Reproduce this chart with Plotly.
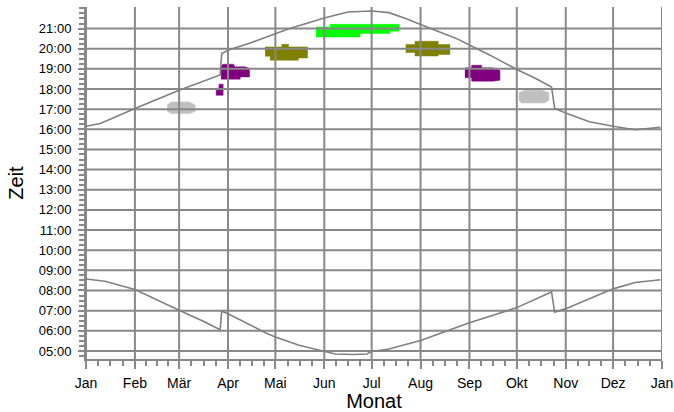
import datetime as dt
import plotly.graph_objects as go

# ---------------- data ----------------
month_labels = ["Jan", "Feb", "Mär", "Apr", "Mai", "Jun", "Jul", "Aug", "Sep", "Okt", "Nov", "Dez", "Jan"]
month_starts = ["2011-01-01", "2011-02-01", "2011-03-01", "2011-04-01", "2011-05-01", "2011-06-01",
                "2011-07-01", "2011-08-01", "2011-09-01", "2011-10-01", "2011-11-01", "2011-12-01",
                "2012-01-01"]
hour_ticks = list(range(5, 22))
hour_labels = [f"{h:02d}:00" for h in hour_ticks]

sunset_dates = ["2011-01-01", "2011-01-10", "2011-01-20", "2011-02-01", "2011-03-01", "2011-03-15",
                "2011-03-27", "2011-03-28", "2011-04-01", "2011-04-15", "2011-05-01", "2011-05-10",
                "2011-05-20", "2011-06-01", "2011-06-16", "2011-07-01", "2011-07-12", "2011-07-23",
                "2011-08-01", "2011-08-13", "2011-08-24", "2011-09-01", "2011-09-14", "2011-10-01",
                "2011-10-13", "2011-10-23", "2011-10-25", "2011-11-01", "2011-11-16", "2011-12-01",
                "2011-12-15", "2011-12-31"]
sunset_hours = [16.15, 16.29, 16.62, 17.03, 17.94, 18.35, 18.70, 19.76, 19.92, 20.28, 20.75, 21.00,
                21.24, 21.52, 21.82, 21.87, 21.79, 21.49, 21.20, 20.83, 20.50, 20.18, 19.68, 18.97,
                18.52, 18.10, 17.03, 16.81, 16.37, 16.15, 15.98, 16.10]

sunrise_dates = ["2011-01-01", "2011-01-13", "2011-02-01", "2011-02-14", "2011-03-01", "2011-03-17",
                 "2011-03-27", "2011-03-28", "2011-04-01", "2011-04-25", "2011-05-01", "2011-05-16",
                 "2011-06-01", "2011-06-08", "2011-06-20", "2011-06-28", "2011-07-01", "2011-07-12",
                 "2011-08-01", "2011-09-01", "2011-10-01", "2011-10-23", "2011-10-25", "2011-11-01",
                 "2011-12-01", "2011-12-15", "2011-12-31"]
sunrise_hours = [8.57, 8.46, 8.05, 7.59, 7.02, 6.45, 6.05, 6.97, 6.85, 5.89, 5.69, 5.28,
                 5.00, 4.85, 4.82, 4.85, 4.97, 5.10, 5.52, 6.40, 7.15, 7.93, 6.92, 7.10,
                 8.08, 8.40, 8.53]

# observation clusters: outline as (day of year, hour)
grey_mar_day = [51.5, 54.0, 65.4, 69.2, 69.2, 66.0, 54.0, 51.5]
grey_mar_hour = [17.22, 17.36, 17.36, 17.20, 16.90, 16.78, 16.78, 16.90]

purple_lmar_day = [84.1, 86.9, 86.9, 82.5, 82.5, 84.1]
purple_lmar_hour = [18.24, 18.24, 17.69, 17.69, 18.04, 18.04]

purple_apr_day = [85.6, 86.7, 93.4, 94.5, 100.8, 103.6, 103.6, 97.7, 97.7, 85.6]
purple_apr_hour = [19.10, 19.23, 19.23, 19.10, 19.10, 19.02, 18.60, 18.60, 18.49, 18.49]

olive_may_day = [113.5, 124.1, 124.1, 128.3, 128.3, 140.4, 140.4, 134.6, 134.6, 116.7, 116.7, 113.5]
olive_may_hour = [20.09, 20.09, 20.22, 20.22, 20.09, 20.09, 19.54, 19.54, 19.43, 19.43, 19.63, 19.63]

green_day = [145.8, 154.7, 154.7, 198.5, 198.5, 192.7, 192.7, 173.7, 173.7, 145.8]
green_hour = [21.08, 21.08, 21.21, 21.21, 20.87, 20.87, 20.75, 20.75, 20.58, 20.58]

olive_aug_day = [202.6, 208.5, 208.5, 223.2, 223.2, 230.6, 230.6, 223.2, 223.2, 208.5, 208.5, 202.6]
olive_aug_hour = [20.21, 20.21, 20.37, 20.37, 20.21, 20.21, 19.71, 19.71, 19.64, 19.64, 19.81, 19.81]

purple_sep_day = [240.1, 244.4, 244.4, 250.7, 250.7, 258.0, 262.3, 262.3, 258.0, 244.4, 244.4, 240.1]
purple_sep_hour = [19.05, 19.05, 19.18, 19.18, 19.05, 19.05, 18.93, 18.44, 18.39, 18.39, 18.56, 18.56]

grey_oct_day = [274.3, 278.1, 288.7, 293.3, 293.3, 290.8, 276.0, 274.3]
grey_oct_hour = [17.83, 17.94, 17.94, 17.83, 17.44, 17.31, 17.31, 17.44]

# ---------------- figure ----------------
Y_MIN, Y_MAX = 4.6, 22.07
GRID = "#888888"
FONT = "Liberation Sans, Arial, sans-serif"
BASE = dt.datetime(2011, 1, 1)


def to_dates(days):
    return [BASE + dt.timedelta(days=d) for d in days]


fig = go.Figure()

clusters = [
    (grey_mar_day, grey_mar_hour, "#c0c0c0"),
    (purple_lmar_day, purple_lmar_hour, "#800080"),
    (purple_apr_day, purple_apr_hour, "#800080"),
    (olive_may_day, olive_may_hour, "#808000"),
    (green_day, green_hour, "#00ff00"),
    (olive_aug_day, olive_aug_hour, "#808000"),
    (purple_sep_day, purple_sep_hour, "#800080"),
    (grey_oct_day, grey_oct_hour, "#c0c0c0"),
]
for ds, hs, col in clusters:
    fig.add_trace(go.Scatter(x=to_dates(ds), y=hs, mode="lines", fill="toself",
                             fillcolor=col, line=dict(color=col, width=0.5),
                             hoverinfo="skip"))

# grid lines drawn above the clusters
gx, gy = [], []
for h in hour_ticks:
    gx += [month_starts[0], month_starts[-1], None]
    gy += [h, h, None]
for m in month_starts:
    gx += [m, m, None]
    gy += [Y_MIN, Y_MAX, None]
fig.add_trace(go.Scatter(x=gx, y=gy, mode="lines", line=dict(color=GRID, width=2),
                         hoverinfo="skip"))

fig.add_trace(go.Scatter(x=sunset_dates, y=sunset_hours, mode="lines",
                         line=dict(color="#808080", width=1.6)))
fig.add_trace(go.Scatter(x=sunrise_dates, y=sunrise_hours, mode="lines",
                         line=dict(color="#808080", width=1.6)))

# minor ticks: quarter months on x, quarter hours on y
x_minor = []
for a, b in zip(month_starts[:-1], month_starts[1:]):
    d0 = dt.datetime.fromisoformat(a)
    d1 = dt.datetime.fromisoformat(b)
    for k in (1, 2, 3):
        x_minor.append((d0 + (d1 - d0) * k / 4).isoformat())
y_minor = [h + q for h in range(4, 23) for q in (0.0, 0.25, 0.5, 0.75)
           if Y_MIN <= h + q <= Y_MAX and (h + q) not in hour_ticks]

fig.update_layout(
    width=674, height=412,
    margin=dict(l=86, r=12, t=7, b=53),
    paper_bgcolor="white", plot_bgcolor="white",
    showlegend=False,
    font=dict(family=FONT, color="black"),
    xaxis=dict(
        type="date", range=[month_starts[0], month_starts[-1]],
        automargin=False,
        tickmode="array", tickvals=month_starts, ticktext=month_labels,
        ticks="outside", ticklen=8, tickwidth=2, tickcolor=GRID,
        showline=True, linecolor=GRID, linewidth=2,
        showgrid=False, zeroline=False,
        ticklabelstandoff=2,
        tickfont=dict(size=14, family=FONT, color="black"),
        minor=dict(tickmode="array", tickvals=x_minor, ticks="outside", ticklen=5,
                   tickwidth=2, tickcolor=GRID, showgrid=False),
        title=dict(text="Monat", font=dict(size=20, family=FONT, color="black"), standoff=2),
    ),
    yaxis=dict(
        range=[Y_MIN, Y_MAX],
        automargin=False,
        tickmode="array", tickvals=hour_ticks, ticktext=hour_labels,
        ticks="outside", ticklen=6, tickwidth=2, tickcolor=GRID,
        showline=True, linecolor=GRID, linewidth=2,
        showgrid=False, zeroline=False,
        ticklabelstandoff=4,
        tickfont=dict(size=13, family=FONT, color="black"),
        minor=dict(tickmode="array", tickvals=y_minor, ticks="outside", ticklen=5,
                   tickwidth=2, tickcolor=GRID, showgrid=False),
        title=dict(text="Zeit", font=dict(size=20, family=FONT, color="black"), standoff=10),
    ),
)

fig.write_html("out.html", config={"displayModeBar": False},
               post_script="document.body.style.margin='0';document.body.style.overflow='hidden';")
